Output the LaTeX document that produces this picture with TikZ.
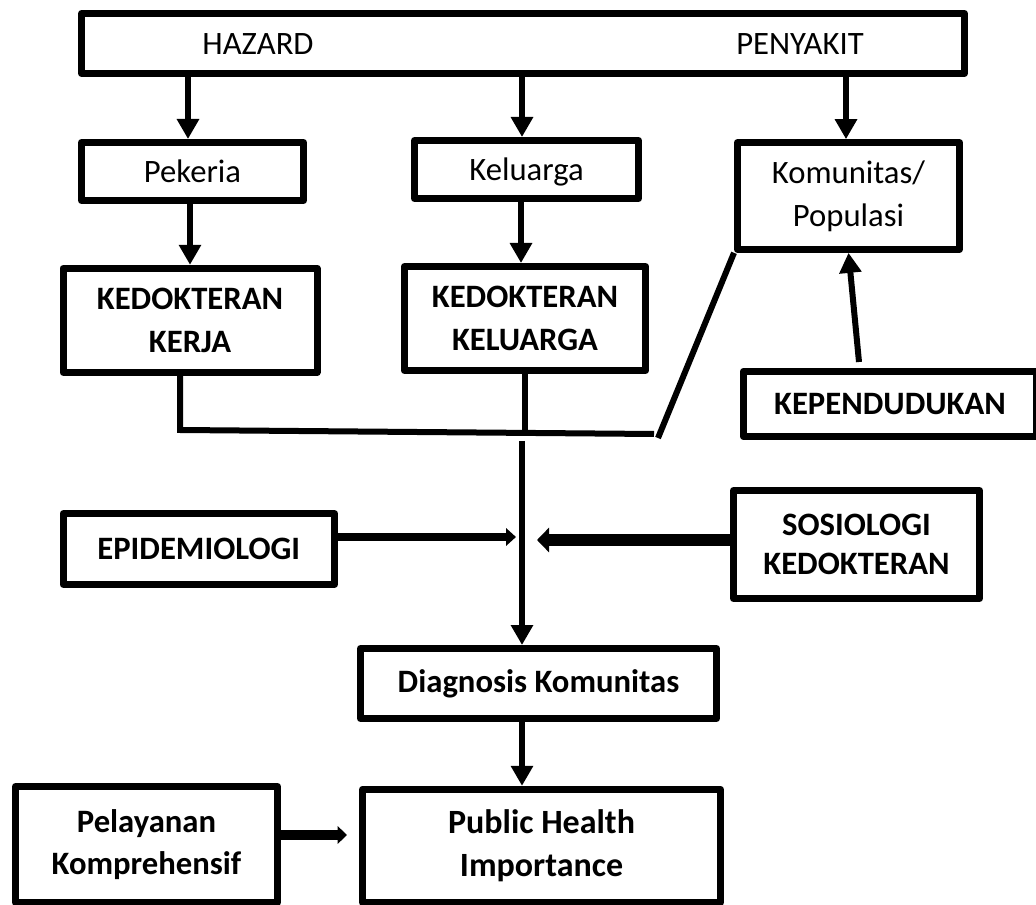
\documentclass[tikz,border=0pt]{standalone}
\usepackage{fontspec}
\setmainfont{Carlito}
\usetikzlibrary{arrows.meta}
\tikzset{every picture/.style={line width=0.75pt}}
\tikzset{
  teks/.style={inner sep=0pt, align=center, font=\fontsize{24.5}{32}\selectfont},
  teksb/.style={teks, font=\fontsize{24.5}{32}\selectfont\bfseries},
  blok/.style={teks, draw, line width=5.25pt, line join=round},
  blokb/.style={teksb, draw, line width=5.25pt, line join=round},
  garis/.style={line width=4.5pt},
  panah/.style={line width=4.5pt, -{Triangle[length=15pt,width=16pt]}},
}

\begin{document}
\begin{tikzpicture}[x=0.75pt,y=0.75pt,yscale=-1,xscale=1]
\useasboundingbox (0,0) rectangle (1036,905);

% Top box
\node [blok, minimum width=662pt, minimum height=45pt] (top) at (523,43.5) {};
\node [teks] (hazard) at (258,44) {HAZARD};
\node [teks] (penyakit) at (800,44) {PENYAKIT};

% Second row
\node [blok, minimum width=166.5pt, minimum height=43.5pt, text depth=0pt] (pek) at (192.5,171.5) {Pekeria};
\node [blok, minimum width=168pt, minimum height=43.5pt, text depth=0pt] (kel) at (526.5,169.5) {Keluarga};
\node [blok, minimum width=166.5pt, minimum height=80pt] (kom) at (848.5,196) {Komunitas/\\Populasi};

% Third row
\node [blokb, minimum width=190.5pt, minimum height=78pt] (kerja) at (190,320.3) {KEDOKTERAN\\KERJA};
\node [blokb, minimum width=181pt, minimum height=78pt] (kelkedok) at (525,318.5) {KEDOKTERAN\\KELUARGA};
\node [blokb, minimum width=220pt, minimum height=49pt] (pend) at (890,404) {KEPENDUDUKAN};

% Middle
\node [blokb, minimum width=203.6pt, minimum height=53pt] (epi) at (198.8,549) {EPIDEMIOLOGI};
\node [blokb, minimum width=184.5pt, minimum height=81pt, font=\fontsize{24.5}{29}\selectfont\bfseries] (sos) at (856.5,544.5) {SOSIOLOGI\\KEDOKTERAN};

% Bottom
\node [blokb, minimum width=267pt, minimum height=52.5pt] (diag) at (538.5,683.5) {Diagnosis Komunitas};
\node [blokb, minimum width=268.5pt, minimum height=85pt, font=\fontsize{25.5}{32}\selectfont\bfseries] (pub) at (541.5,846) {Public Health\\Importance};
\node [blokb, minimum width=196.5pt, minimum height=87pt] (pel) at (146.5,844.5) {Pelayanan\\Komprehensif};

% Junction points
\coordinate (jkiri) at (180,430);
\coordinate (jkanan) at (654,434);
\coordinate (jslant) at (658,438);
\coordinate (jtengah) at (522,441);
\coordinate (pendtop) at (859,362);
\coordinate (epitip) at (516,537);
\coordinate (sostip) at (537,540);
\coordinate (peltip) at (347,835);

% Arrows from top box
\draw [panah] (top.south -| 188,0) -- (pek.north -| 188,0);
\draw [panah] (top.south -| 522,0) -- (kel.north -| 522,0);
\draw [panah] (top.south -| 846,0) -- (kom.north -| 846,0);

% Second row to third row
\draw [panah] (pek.south -| 190,0) -- (kerja.north -| 190,0);
\draw [panah] (kel.south -| 521,0) -- (kelkedok.north -| 521,0);
\draw [panah] (pendtop) -- (kom.south);

% Joining lines
\draw [garis] (kerja.south -| jkiri) -- (jkiri) -- (jkanan);
\draw [garis] (kelkedok.south) -- (kelkedok.south |- 0,432);
\draw [garis] (kom.south west) -- (jslant);
\draw [panah] (jtengah) -- (jtengah |- diag.north);

% Side inputs
\draw [line width=6pt, -{Triangle[length=7.5pt,width=13pt]}] (epitip -| epi.east) -- (epitip);
\draw [line width=9pt, -{Triangle[length=9pt,width=18pt]}] (sostip -| sos.west) -- (sostip);

% Bottom arrows
\draw [panah] (diag.south -| jtengah) -- (pub.north -| jtengah);
\draw [line width=7pt, -{Triangle[length=7pt,width=13pt]}] (peltip -| pel.east) -- (peltip);

\end{tikzpicture}
\end{document}
